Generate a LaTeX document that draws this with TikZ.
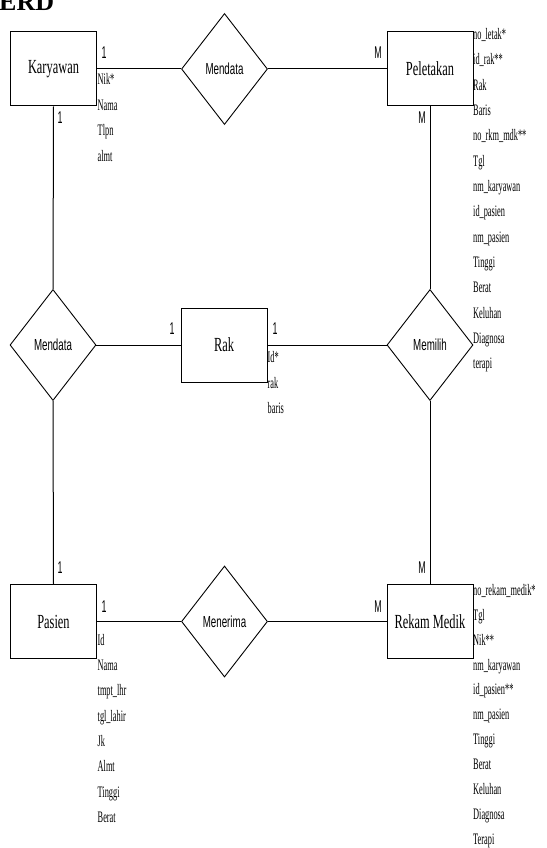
\documentclass[tikz,border=0pt]{standalone}
\usepackage{fontspec}
\setmainfont{Liberation Serif}
\newfontfamily\entfont{Liberation Serif}[FakeStretch=0.62]
\newfontfamily\attfont{Liberation Serif}[FakeStretch=0.52]
\newfontfamily\relfont{Liberation Sans}[FakeStretch=0.61]
\newfontfamily\cardfont{Liberation Sans}[FakeStretch=0.52]
\usetikzlibrary{shapes.geometric}
\tikzset{
  ent/.style={draw, line width=1pt, minimum width=86pt, minimum height=74pt, inner sep=0pt,
    font=\entfont\fontsize{20}{20}\selectfont},
  rel/.style={draw, diamond, line width=0.9pt, minimum width=86pt, minimum height=111pt, inner sep=0pt,
    font=\relfont\fontsize{16}{16}\selectfont},
  attr/.style={anchor=mid west, inner sep=0pt, font=\attfont\fontsize{16}{16}\selectfont},
  card/.style={inner sep=0pt, font=\cardfont\fontsize{17}{17}\selectfont},
  conn/.style={line width=1pt}
}
\begin{document}
\begin{tikzpicture}[x=1pt, y=-1pt]
\clip (0,0) rectangle (546,848);
% title
\node[anchor=base west, inner sep=0pt, font=\bfseries\fontsize{26}{26}\selectfont] (title) at (-1,11) {ERD};
% entities
\node[ent] (kar) at (53.5,69) {Karyawan};
\node[ent] (pel) at (430,69) {Peletakan};
\node[ent] (rak) at (224,345) {Rak};
\node[ent] (pas) at (53.5,621.5) {Pasien};
\node[ent] (rek) at (430,621.5) {Rekam Medik};
% relationships
\node[rel] (md1) at (224.5,69) {Mendata};
\node[rel] (md2) at (53,345) {Mendata};
\node[rel] (mem) at (430,345) {Memilih};
\node[rel] (men) at (224.5,621.5) {Menerima};
% connectors
\draw[conn] (kar.east) -- (md1.west);
\draw[conn] (md1.east) -- (pel.west);
\draw[conn] (kar.south) -- (md2.north);
\draw[conn] (md2.south) -- (pas.north);
\draw[conn] (md2.east) -- (rak.west);
\draw[conn] (rak.east) -- (mem.west);
\draw[conn] (pel.south) -- (mem.north);
\draw[conn] (mem.south) -- (rek.north);
\draw[conn] (pas.east) -- (men.west);
\draw[conn] (men.east) -- (rek.west);
% cardinalities
\node[card] (c1) at (104,53) {1};
\node[card] (c2) at (60,118) {1};
\node[card] (c3) at (378,53) {M};
\node[card] (c4) at (422,118) {M};
\node[card] (c5) at (172,329) {1};
\node[card] (c6) at (275,329) {1};
\node[card] (c7) at (60,568) {1};
\node[card] (c8) at (104,607) {1};
\node[card] (c9) at (422,568) {M};
\node[card] (c10) at (378,607) {M};
% attributes
\foreach \t [count=\i from 0] in {Nik*, Nama, Tlpn, almt}
  \node[attr] (ka\i) at (97.5, 82+25.8*\i) {\t};
\foreach \t [count=\i from 0] in {no\_letak*, id\_rak**, Rak, Baris, no\_rkm\_mdk**, Tgl, nm\_karyawan, id\_pasien, nm\_pasien, Tinggi, Berat, Keluhan, Diagnosa, terapi}
  \node[attr] (pa\i) at (473, 37+25.36*\i) {\t};
\foreach \t [count=\i from 0] in {Id*, rak, baris}
  \node[attr] (ra\i) at (267.5, 360.5+25.6*\i) {\t};
\foreach \t [count=\i from 0] in {Id, Nama, tmpt\_lhr, tgl\_lahir, Jk, Almt, Tinggi, Berat}
  \node[attr] (ps\i) at (97.5, 643+25.3*\i) {\t};
\foreach \t [count=\i from 0] in {no\_rekam\_medik*, Tgl, Nik**, nm\_karyawan, id\_pasien**, nm\_pasien, Tinggi, Berat, Keluhan, Diagnosa, Terapi}
  \node[attr] (rm\i) at (473, 593+24.9*\i) {\t};
\end{tikzpicture}
\end{document}
